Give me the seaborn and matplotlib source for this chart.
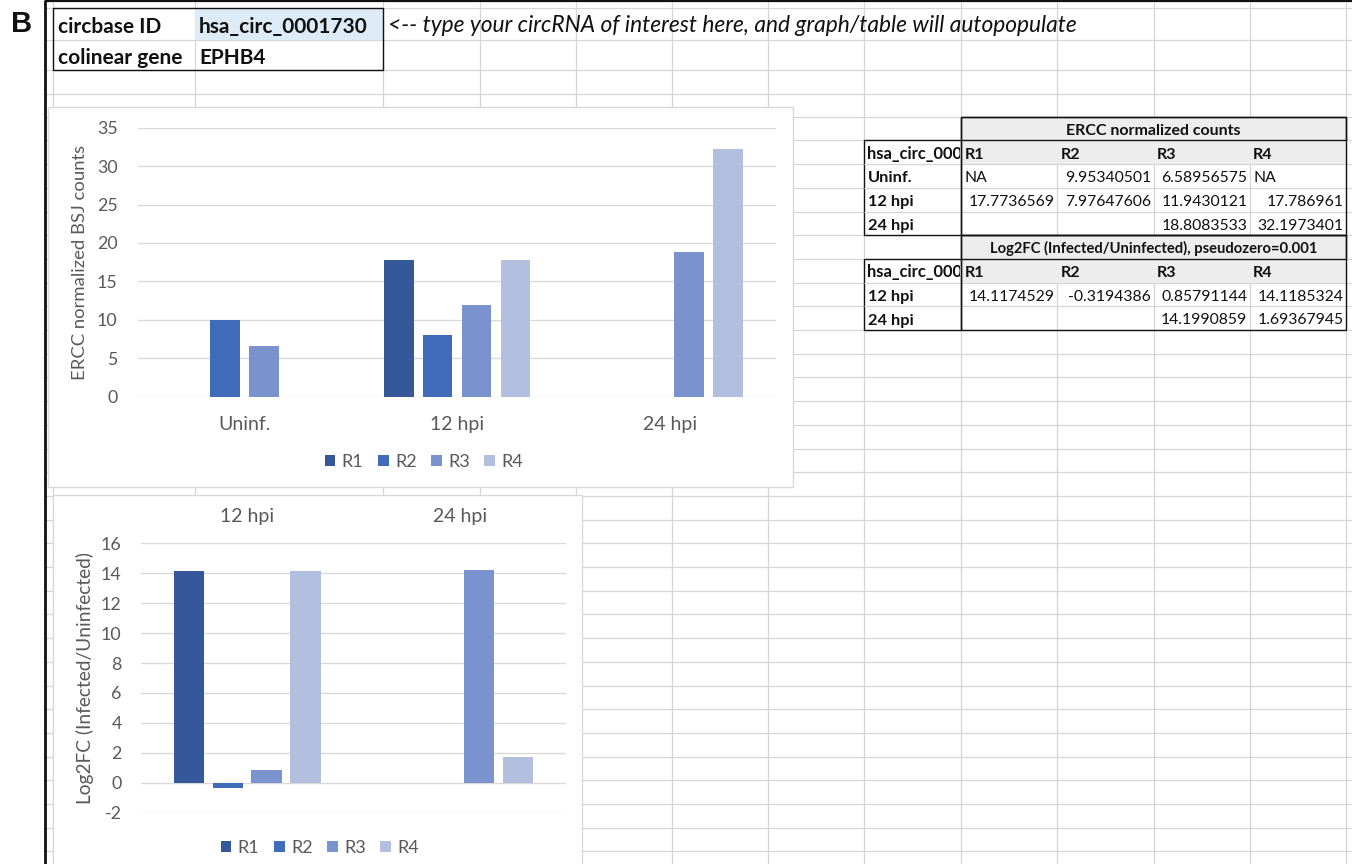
import numpy as np
import pandas as pd
import matplotlib
matplotlib.use("Agg")
import matplotlib.pyplot as plt
import seaborn as sns
from matplotlib.patches import Rectangle, Patch

# ---------------- data ----------------
circ_id = "hsa_circ_0001730"
colinear_gene = "EPHB4"
note_text = "<-- type your circRNA of interest here, and graph/table will autopopulate"

replicates = ["R1", "R2", "R3", "R4"]

count_groups = ["Uninf.", "12 hpi", "24 hpi"]
counts_R1 = [np.nan, 17.7736569, np.nan]
counts_R2 = [9.95340501, 7.97647606, np.nan]
counts_R3 = [6.58956575, 11.9430121, 18.8083533]
counts_R4 = [np.nan, 17.786961, 32.1973401]

fc_groups = ["12 hpi", "24 hpi"]
fc_R1 = [14.1174529, np.nan]
fc_R2 = [-0.3194386, np.nan]
fc_R3 = [0.85791144, 14.1990859]
fc_R4 = [14.1185324, 1.69367945]

counts_title = "ERCC normalized counts"
fc_title = "Log2FC (Infected/Uninfected), pseudozero=0.001"
counts_cells = [["NA", "9.95340501", "6.58956575", "NA"],
                ["17.7736569", "7.97647606", "11.9430121", "17.786961"],
                ["", "", "18.8083533", "32.1973401"]]
fc_cells = [["14.1174529", "-0.3194386", "0.85791144", "14.1185324"],
            ["", "", "14.1990859", "1.69367945"]]

counts_ylabel = "ERCC normalized BSJ counts"
fc_ylabel = "Log2FC (Infected/Uninfected)"

# ---------------- style ----------------
sns.set_style("white")
plt.rcParams["font.family"] = ["Lato", "DejaVu Sans"]
plt.rcParams["axes.unicode_minus"] = False
rep_colors = ["#345899", "#3F6BB8", "#7A93CF", "#B3BFDF"]
grid_c = "#D5D5D5"
txt_c = "#595959"

W, H = 1352, 864
fig = plt.figure(figsize=(W / 100, H / 100), dpi=100)
bg = fig.add_axes([0, 0, 1, 1])
bg.set_xlim(0, W)
bg.set_ylim(H, 0)
bg.axis("off")

# spreadsheet grid
col_x = [52.7, 195, 383, 480, 576, 672, 768, 864, 961, 1057, 1153.5, 1249.7, 1346]
row_y = [7.5, 39.5, 70, 94] + [116.7 + 23.7 * k for k in range(32)]
bg.vlines(col_x, 0, H, color=grid_c, lw=0.9, zorder=1)
bg.hlines(row_y, 46, W, color=grid_c, lw=0.9, zorder=1)

# sheet border
bg.plot([44.5, 44.5], [0, H], color="#111111", lw=2.0, zorder=5, solid_capstyle="butt")
bg.plot([44.5, W], [1.2, 1.2], color="#111111", lw=1.6, zorder=5, solid_capstyle="butt")
bg.text(21.5, 24.5, "B", fontsize=21, fontweight="bold", family=["Liberation Sans"],
        ha="center", va="center", color="#111111")

# top-left info box
bg.add_patch(Rectangle((195, 7.5), 188, 32, facecolor="#DDEBF7", edgecolor="none", zorder=2))
bg.add_patch(Rectangle((52.7, 7.5), 330.3, 62.5, facecolor="none", edgecolor="#111111", lw=1.0, zorder=4))
bg.text(57.5, 33.3, "circbase ID", fontsize=15.0, fontweight="bold", va="baseline", color="#111111")
bg.text(57.5, 63.5, "colinear gene", fontsize=15.0, fontweight="bold", va="baseline", color="#111111")
bg.text(199, 33.3, circ_id, fontsize=15.0, fontweight="bold", va="baseline", color="#111111")
bg.text(199, 63.5, colinear_gene, fontsize=15.0, fontweight="bold", va="baseline", color="#111111")
bg.text(388.5, 32.5, note_text, fontsize=16.4, style="italic", va="baseline", color="#111111")


# right-hand tables
def draw_table(top, title, cells, title_size):
    r = [top + 23.7 * k for k in range(len(cells) + 3)]
    bg.add_patch(Rectangle((961, r[0]), 385, r[2] - r[0], facecolor="#EDEDED", edgecolor="none", zorder=2))
    bg.add_patch(Rectangle((961, r[0]), 385, r[1] - r[0], facecolor="none", edgecolor="#111111", lw=1.0, zorder=4))
    bg.add_patch(Rectangle((961, r[0]), 385, r[-1] - r[0], facecolor="none", edgecolor="#111111", lw=1.0, zorder=4))
    bg.add_patch(Rectangle((864, r[1]), 97, r[-1] - r[1], facecolor="white", edgecolor="#111111", lw=1.0, zorder=3))
    bg.hlines(r[2:-1], 864, 961, color=grid_c, lw=0.9, zorder=3.5)
    bg.text(1153.5, r[1] - 5.5, title, fontsize=title_size, fontweight="bold", ha="center",
            va="baseline", color="#111111")
    # the id overflows its cell in the sheet: Excel cuts it at the cell edge
    clip = Rectangle((864, r[1]), 96.0, 23.7, transform=bg.transData, facecolor="none", edgecolor="none")
    t = bg.text(867.0, r[2] - 5.5, circ_id[:12], fontsize=11.9, fontweight="bold", va="baseline",
                color="#111111", zorder=6)
    t.set_clip_on(True)
    t.set_clip_path(clip)
    for j, rep in enumerate(replicates):
        bg.text(col_x[8 + j] + 3.5, r[2] - 5.5, rep, fontsize=11.6, fontweight="bold",
                va="baseline", color="#111111")
    labels = ["Uninf.", "12 hpi", "24 hpi"][-len(cells):]
    for i, row in enumerate(cells):
        yb = r[3 + i] - 5.5
        bg.text(867.5, yb, labels[i], fontsize=11.8, fontweight="bold", va="baseline",
                color="#111111", zorder=6)
        for j, s in enumerate(row):
            if not s:
                continue
            try:
                float(s)
                bg.text(col_x[9 + j] - 2.5, yb, s, fontsize=11.3, ha="right", va="baseline", color="#111111")
            except ValueError:
                bg.text(col_x[8 + j] + 3.5, yb, s, fontsize=11.3, ha="left", va="baseline", color="#111111")


draw_table(116.7, counts_title, counts_cells, 11.5)
draw_table(116.7 + 23.7 * 5, fc_title, fc_cells, 10.6)

# chart frames
bg.add_patch(Rectangle((48, 107.3), 744.7, 379.7, facecolor="white", edgecolor="#D9D9D9", lw=1.0, zorder=7))
bg.add_patch(Rectangle((52.5, 494.5), 529.5, 380, facecolor="white", edgecolor="#D9D9D9", lw=1.0, zorder=7))


def px_rect(x0, y0, x1, y1):
    return [x0 / W, 1 - y1 / H, (x1 - x0) / W, (y1 - y0) / H]


def long_df(groups, series):
    rows = [(g, rep, v) for rep, vals in zip(replicates, series) for g, v in zip(groups, vals)]
    return pd.DataFrame(rows, columns=["group", "rep", "value"]).dropna()


def style_axis(ax, ymin, ymax, step, ylabel, label_x, label_size):
    ax.patch.set_visible(False)
    for s in ax.spines.values():
        s.set_visible(False)
    ax.set_ylim(ymin, ymax)
    ax.set_yticks(np.arange(ymin, ymax + step / 2, step))
    ax.yaxis.grid(True, color="#D9D9D9", lw=0.95)
    ax.xaxis.grid(False)
    ax.set_axisbelow(True)
    ax.set_xlabel("")
    ax.set_ylabel(ylabel, fontsize=label_size, color=txt_c, va="center")
    ax.yaxis.set_label_coords(label_x, 0.5)
    ax.tick_params(axis="both", length=0, labelsize=12.8, labelcolor=txt_c)


def legend(ax, cx, cy):
    handles = [Patch(facecolor=c, edgecolor="none") for c in rep_colors]
    ax.legend(handles, replicates, loc="center", bbox_to_anchor=(cx / W, 1 - cy / H),
              bbox_transform=fig.transFigure, ncol=4, frameon=False, fontsize=13,
              handlelength=0.6, handleheight=0.6, handletextpad=0.35, columnspacing=0.8,
              labelcolor=txt_c)


# chart 1: ERCC normalized counts
ax1 = fig.add_axes(px_rect(138.3, 127.7, 776, 396.7))
sns.barplot(long_df(count_groups, [counts_R1, counts_R2, counts_R3, counts_R4]),
            x="group", y="value", hue="rep", order=count_groups, hue_order=replicates,
            palette=rep_colors, saturation=1, width=0.73, gap=0.24, errorbar=None,
            linewidth=0, legend=False, ax=ax1)
style_axis(ax1, 0, 35, 5, counts_ylabel, -0.091, 13.3)
ax1.tick_params(axis="y", pad=15)
ax1.tick_params(axis="x", pad=14, labelsize=14)
legend(ax1, 424, 461.7)

# chart 2: Log2FC
ax2 = fig.add_axes(px_rect(141, 543.3, 566, 812.7))
sns.barplot(long_df(fc_groups, [fc_R1, fc_R2, fc_R3, fc_R4]),
            x="group", y="value", hue="rep", order=fc_groups, hue_order=replicates,
            palette=rep_colors, saturation=1, width=0.73, gap=0.21, errorbar=None,
            linewidth=0, legend=False, ax=ax2)
style_axis(ax2, -2, 16, 2, fc_ylabel, -0.131, 13.8)
ax2.xaxis.set_ticks_position("top")
ax2.tick_params(axis="y", pad=14)
ax2.tick_params(axis="x", pad=13, labelsize=14)
legend(ax2, 320, 848)

fig.savefig("out.png", dpi=100)
